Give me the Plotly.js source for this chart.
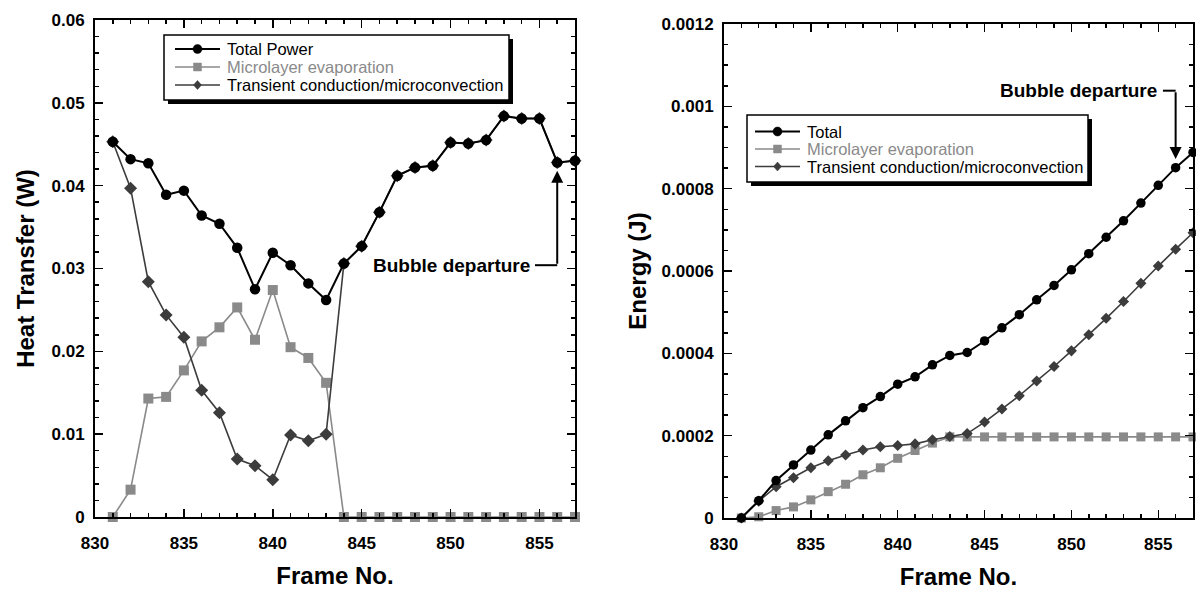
<!DOCTYPE html>
<html><head><meta charset="utf-8">
<script src="https://cdn.plot.ly/plotly-3.0.1.min.js"></script>
<style>html,body{margin:0;padding:0;background:#fff}#chart{width:1196px;height:591px}</style>
</head><body><div id="chart"></div>
<script>
const frames = [831,832,833,834,835,836,837,838,839,840,841,842,843,844,845,846,847,848,849,850,851,852,853,854,855,856,857];

const heatTotal = [0.0453,0.0432,0.0427,0.0389,0.0394,0.0364,0.0354,0.0325,0.0275,0.0319,0.0304,0.0282,0.0262,0.0306,0.0327,0.0368,0.0412,0.0422,0.0424,0.0452,0.0451,0.0455,0.0484,0.0481,0.0481,0.0428,0.0430];
const heatMicro = [0,0.0033,0.0143,0.0145,0.0177,0.0212,0.0229,0.0253,0.0214,0.0274,0.0205,0.0192,0.0162,0,0,0,0,0,0,0,0,0,0,0,0,0,0];
const heatTransient = [0.0453,0.0397,0.0284,0.0244,0.0217,0.0153,0.0126,0.0070,0.0062,0.0045,0.0099,0.0092,0.0100,0.0306,0.0327,0.0368,0.0412,0.0422,0.0424,0.0452,0.0451,0.0455,0.0484,0.0481,0.0481,0.0428,0.0430];

const energyTotal = [0,0.000042,0.000091,0.000129,0.000165,0.000202,0.000236,0.000268,0.000295,0.000325,0.000343,0.000372,0.000395,0.000402,0.000430,0.000462,0.000494,0.000530,0.000565,0.000603,0.000642,0.000682,0.000722,0.000765,0.000808,0.000851,0.000888];
const energyMicro = [0,0.000003,0.000018,0.000027,0.000044,0.000064,0.000082,0.000105,0.000122,0.000145,0.000164,0.000182,0.000197,0.000197,0.000197,0.000197,0.000197,0.000197,0.000197,0.000197,0.000197,0.000197,0.000197,0.000197,0.000197,0.000197,0.000197];
const energyTransient = [0,0.000041,0.000076,0.000098,0.000122,0.000139,0.000153,0.000165,0.000173,0.000176,0.000180,0.000190,0.000198,0.000205,0.000233,0.000265,0.000297,0.000333,0.000368,0.000406,0.000445,0.000485,0.000526,0.000570,0.000612,0.000653,0.000693];

const xTickVals = [830,835,840,845,850,855];
const xTickText = ['830','835','840','845','850','855'];
const heatTickVals = [0,0.01,0.02,0.03,0.04,0.05,0.06];
const heatTickText = ['0','0.01','0.02','0.03','0.04','0.05','0.06'];
const energyTickVals = [0,0.0002,0.0004,0.0006,0.0008,0.001,0.0012];
const energyTickText = ['0','0.0002','0.0004','0.0006','0.0008','0.001','0.0012'];

const leftNames = ['Total Power','Microlayer evaporation','Transient conduction/microconvection'];
const rightNames = ['Total','Microlayer evaporation','Transient conduction/microconvection'];
const annotationText = 'Bubble departure';

const FONT = 'Liberation Sans, Arial, Helvetica, sans-serif';
const W = 1196, H = 591;
const BLACK = '#000000', GRAY = '#8a8a8a', DARK = '#3c3c3c';
const seriesColors = [BLACK, GRAY, DARK];
const seriesSymbols = ['circle', 'square', 'diamond'];

function px(x){return x/W;}
function py(y){return 1 - y/H;}

function xAxis(domain, anchor){
  return {
    domain: domain, anchor: anchor, range: [830,857],
    tickmode: 'array', tickvals: xTickVals, ticktext: xTickText,
    ticks: 'inside', ticklen: 8, tickwidth: 1.5, tickcolor: BLACK, ticklabelstandoff: 10,
    showline: true, linewidth: 2, linecolor: BLACK, mirror: 'ticks',
    showgrid: false, zeroline: false,
    minor: {ticks: 'inside', dtick: 1, tick0: 830, ticklen: 4, tickwidth: 1.5, tickcolor: BLACK, showgrid: false},
    tickfont: {family: FONT, size: 17, weight: 'bold', color: BLACK},
    title: {text: 'Frame No.', font: {family: FONT, size: 24, weight: 'bold', color: BLACK}, standoff: 15}
  };
}
function yAxis(domain, anchor, range, vals, text, dminor, title, standoff){
  return {
    domain: domain, anchor: anchor, range: range,
    tickmode: 'array', tickvals: vals, ticktext: text,
    ticks: 'inside', ticklen: 8, tickwidth: 1.5, tickcolor: BLACK, ticklabelstandoff: 5,
    showline: true, linewidth: 2, linecolor: BLACK, mirror: 'ticks',
    showgrid: false, zeroline: false,
    minor: {ticks: 'inside', dtick: dminor, tick0: 0, ticklen: 4, tickwidth: 1.5, tickcolor: BLACK, showgrid: false},
    tickfont: {family: FONT, size: 17, weight: 'bold', color: BLACK},
    title: {text: title, font: {family: FONT, size: 24, weight: 'bold', color: BLACK}, standoff: standoff}
  };
}

function trace(y, name, xa, ya, color, symbol, size, lw){
  return {
    x: frames, y: y, name: name, type: 'scatter', mode: 'lines+markers',
    xaxis: xa, yaxis: ya, cliponaxis: false, showlegend: false,
    line: {color: color, width: lw},
    marker: {color: color, symbol: symbol, size: size}
  };
}

const data = [
  trace(heatMicro, leftNames[1], 'x', 'y', GRAY, 'square', 10, 1.6),
  trace(heatTransient, leftNames[2], 'x', 'y', DARK, 'diamond', 10, 1.6),
  trace(heatTotal, leftNames[0], 'x', 'y', BLACK, 'circle', 10.5, 2),
  trace(energyMicro, rightNames[1], 'x2', 'y2', GRAY, 'square', 9, 1.6),
  trace(energyTransient, rightNames[2], 'x2', 'y2', DARK, 'diamond', 8.5, 1.6),
  trace(energyTotal, rightNames[0], 'x2', 'y2', BLACK, 'circle', 9.5, 2)
];

const shapes = [];
const annotations = [];

// hand-drawn legend box with drop shadow (position in page pixels)
function legendBox(names, left, top, right, bottom, rows, lineX0, lineX1, textX){
  shapes.push({type: 'rect', xref: 'paper', yref: 'paper', x0: px(left + 4), x1: px(right + 4), y0: py(bottom + 4), y1: py(top + 4), fillcolor: BLACK, line: {width: 0}, layer: 'above'});
  shapes.push({type: 'rect', xref: 'paper', yref: 'paper', x0: px(left), x1: px(right), y0: py(bottom), y1: py(top), fillcolor: '#ffffff', line: {color: BLACK, width: 1.5}, layer: 'above'});
  const mx = (lineX0 + lineX1) / 2;
  names.forEach(function(name, i){
    const yy = rows[i];
    const c = seriesColors[i];
    shapes.push({type: 'line', xref: 'paper', yref: 'paper', x0: px(lineX0), x1: px(lineX1), y0: py(yy), y1: py(yy), line: {color: c, width: i === 0 ? 2 : 1.6}, layer: 'above'});
    const sym = seriesSymbols[i];
    if (sym === 'circle') {
      shapes.push({type: 'circle', xref: 'paper', yref: 'paper', x0: px(mx - 4.5), x1: px(mx + 4.5), y0: py(yy + 4.5), y1: py(yy - 4.5), fillcolor: c, line: {color: c, width: 0.5}, layer: 'above'});
    } else if (sym === 'square') {
      shapes.push({type: 'rect', xref: 'paper', yref: 'paper', x0: px(mx - 4), x1: px(mx + 4), y0: py(yy + 4), y1: py(yy - 4), fillcolor: c, line: {color: c, width: 0.5}, layer: 'above'});
    } else {
      const d = 'M ' + px(mx) + ',' + py(yy - 4.5) + ' L ' + px(mx + 4) + ',' + py(yy) + ' L ' + px(mx) + ',' + py(yy + 4.5) + ' L ' + px(mx - 4) + ',' + py(yy) + ' Z';
      shapes.push({type: 'path', xref: 'paper', yref: 'paper', path: d, fillcolor: c, line: {color: c, width: 0.5}, layer: 'above'});
    }
    annotations.push({xref: 'paper', yref: 'paper', x: px(textX), y: py(yy), xanchor: 'left', yanchor: 'middle', showarrow: false, text: name, font: {family: FONT, size: 16.5, color: i === 1 ? GRAY : BLACK}});
  });
}
legendBox(leftNames, 164, 35, 509, 100, [49, 67, 85], 175, 220, 225);
legendBox(rightNames, 747, 115, 1088, 182, [131.5, 149, 166.5], 755, 800, 805);

// "Bubble departure" call-outs with elbow arrows
shapes.push({type: 'line', xref: 'x', yref: 'y', x0: 854.75, x1: 856, y0: 0.0304, y1: 0.0304, line: {color: BLACK, width: 2}});
shapes.push({type: 'line', xref: 'x2', yref: 'y2', x0: 855.27, x1: 856, y0: 0.001038, y1: 0.001038, line: {color: BLACK, width: 2}});
annotations.push({xref: 'x', yref: 'y', x: 854.6, y: 0.0304, xanchor: 'right', yanchor: 'middle', text: annotationText, showarrow: false, font: {family: FONT, size: 19, weight: 'bold', color: BLACK}});
annotations.push({xref: 'x', yref: 'y', x: 856, y: 0.0418, ax: 856, ay: 0.0304, axref: 'x', ayref: 'y', text: '', showarrow: true, arrowhead: 2, arrowsize: 1.2, arrowwidth: 2, arrowcolor: BLACK, standoff: 0, startstandoff: 0});
annotations.push({xref: 'x2', yref: 'y2', x: 855.05, y: 0.001038, xanchor: 'right', yanchor: 'middle', text: annotationText, showarrow: false, font: {family: FONT, size: 19, weight: 'bold', color: BLACK}});
annotations.push({xref: 'x2', yref: 'y2', x: 856, y: 0.000872, ax: 856, ay: 0.001038, axref: 'x2', ayref: 'y2', text: '', showarrow: true, arrowhead: 2, arrowsize: 1.2, arrowwidth: 2, arrowcolor: BLACK, standoff: 0, startstandoff: 0});

const layout = {
  width: W, height: H,
  margin: {l: 0, r: 0, t: 0, b: 0, autoexpand: false},
  paper_bgcolor: '#ffffff', plot_bgcolor: '#ffffff',
  showlegend: false,
  xaxis: xAxis([px(95), px(575)], 'y'),
  yaxis: yAxis([py(517), py(20)], 'x', [0, 0.06], heatTickVals, heatTickText, 0.002, 'Heat Transfer (W)', 10),
  xaxis2: xAxis([px(724), px(1193)], 'y2'),
  yaxis2: yAxis([py(518), py(24)], 'x2', [0, 0.0012], energyTickVals, energyTickText, 0.00005, 'Energy (J)', 8),
  shapes: shapes,
  annotations: annotations
};

Plotly.newPlot('chart', data, layout, {displayModeBar: false, staticPlot: true});
</script></body></html>
